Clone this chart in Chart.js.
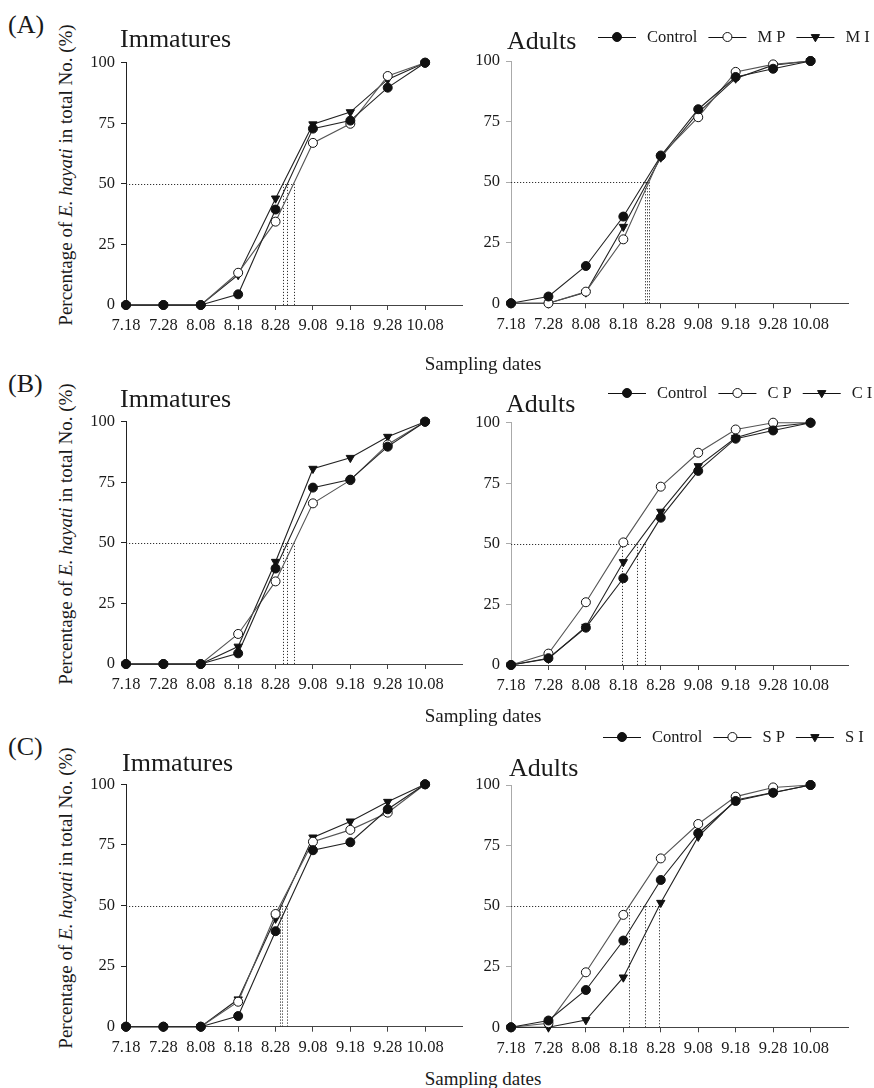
<!DOCTYPE html>
<html><head><meta charset="utf-8">
<script src="https://cdn.jsdelivr.net/npm/chart.js@4.4.1/dist/chart.umd.min.js"></script>
<style>
html,body{margin:0;padding:0;background:#fff;}
#fig{position:relative;width:874px;height:1088px;overflow:hidden;background:#fff;font-family:'Liberation Serif','Times New Roman',serif;color:#1a1a1a;}
#fig canvas{position:absolute;}
.t{position:absolute;white-space:nowrap;}
</style></head><body><div id="fig"></div>
<script>
// ---------- data ----------
const dates = ['7.18','7.28','8.08','8.18','8.28','9.08','9.18','9.28','10.08'];
const yTicks = [0, 25, 50, 75, 100];

const immControl = [0, 0, 0, 4.4, 39.4, 72.8, 76.1, 89.7, 100];
const adControl  = [0, 2.8, 15.4, 35.8, 60.8, 80.1, 93.4, 96.8, 100];

const immMP = [0, 0, 0, 13.3, 34.4, 66.9, 74.8, 94.5, 100];
const immMI = [0, 0, 0, 12.4, 44.0, 74.6, 79.6, 93.1, 100];
const adMP  = [0, 0, 4.8, 26.4, 61.0, 76.8, 95.5, 98.6, 100];
const adMI  = [0, 0, 4.5, 31.6, 60.2, 78.7, 92.8, 98.3, 100];

const immCP = [0, 0, 0, 12.4, 34.1, 66.3, 75.9, 90.6, 100];
const immCI = [0, 0, 0, 7.2, 42.2, 80.6, 85.1, 93.8, 100];
const adCP  = [0, 4.7, 25.9, 50.6, 73.6, 87.6, 97.2, 100, 100];
const adCI  = [0, 2.6, 15.8, 42.5, 63.3, 82.1, 93.8, 98.3, 100];

const immSP = [0, 0, 0, 10.3, 46.5, 76.3, 81.2, 88.3, 100];
const immSI = [0, 0, 0, 11.3, 44.6, 78.1, 84.7, 92.8, 100];
const adSP  = [0, 1.7, 22.7, 46.4, 69.7, 83.9, 95.2, 99.0, 100];
const adSI  = [0, 0, 3.0, 20.6, 51.4, 78.7, 93.8, 96.9, 100];

const labelsA = ['Control', 'M P', 'M I'];
const labelsB = ['Control', 'C P', 'C I'];
const labelsC = ['Control', 'S P', 'S I'];

// ---------- styles ----------
const FONT = "'Liberation Serif','Times New Roman',serif";
const seriesStyle = [
  {pointStyle:'circle', pointRadius:4.5, pointRotation:0, pointBackgroundColor:'#111', pointBorderColor:'#111', borderColor:'#222'},
  {pointStyle:'circle', pointRadius:4.5, pointRotation:0, pointBackgroundColor:'#fff', pointBorderColor:'#111', borderColor:'#555'},
  {pointStyle:'triangle', pointRadius:4.8, pointRotation:180, pointBackgroundColor:'#111', pointBorderColor:'#111', borderColor:'#222'}
];

const fig = document.getElementById('fig');

const refLines = {
  id:'refLines',
  beforeDatasetsDraw(chart){
    const xs = chart.scales.x, ys = chart.scales.y, ctx = chart.ctx;
    const y50 = ys.getPixelForValue(50), y0 = ys.getPixelForValue(0);
    const cross = [];
    chart.data.datasets.forEach(ds => {
      const d = ds.data;
      for (let i = 0; i < d.length - 1; i++) {
        if (d[i] < 50 && d[i+1] >= 50) { cross.push(xs.getPixelForValue(i + (50 - d[i]) / (d[i+1] - d[i]))); break; }
      }
    });
    if (!cross.length) return;
    ctx.save();
    ctx.strokeStyle = '#333'; ctx.lineWidth = 1; ctx.setLineDash([1.2, 1.8]);
    ctx.beginPath();
    ctx.moveTo(xs.left, Math.round(y50) + 0.5); ctx.lineTo(Math.max(...cross), Math.round(y50) + 0.5);
    cross.forEach(x => { ctx.moveTo(Math.round(x) + 0.5, y50); ctx.lineTo(Math.round(x) + 0.5, y0); });
    ctx.stroke();
    ctx.restore();
  }
};

const legendPlugin = {
  id:'lg',
  afterDraw(chart, args, opts){
    if (!opts || !opts.show) return;
    const ctx = chart.ctx;
    let x = opts.x, y = opts.y;
    ctx.save();
    ctx.font = '16.5px ' + FONT;
    ctx.textBaseline = 'middle';
    chart.data.datasets.forEach((ds, i) => {
      const st = seriesStyle[i];
      ctx.strokeStyle = '#111'; ctx.lineWidth = 1;
      ctx.beginPath(); ctx.moveTo(x, y + 0.5); ctx.lineTo(x + 38, y + 0.5); ctx.stroke();
      ctx.fillStyle = st.pointBackgroundColor; ctx.strokeStyle = st.pointBorderColor;
      Chart.helpers.drawPoint(ctx, {pointStyle: st.pointStyle, radius: st.pointRadius, rotation: st.pointRotation, borderWidth: 1}, x + 19, y);
      ctx.fillStyle = '#1a1a1a';
      ctx.fillText(ds.label, x + 49, y + 1);
      x += 49 + ctx.measureText(ds.label).width + 11;
    });
    ctx.restore();
  }
};

function panel(p){
  const cv = document.createElement('canvas');
  const W = p.cr - p.cl, H = p.cb - p.ct;
  cv.width = W; cv.height = H;
  cv.style.left = p.cl + 'px'; cv.style.top = p.ct + 'px';
  cv.style.width = W + 'px'; cv.style.height = H + 'px';
  fig.appendChild(cv);
  const datasets = p.series.map((d, i) => Object.assign({
    label: p.labels[i], data: d, borderWidth: 1.1, pointBorderWidth: 1, fill: false, tension: 0, clip: false
  }, seriesStyle[i]));
  new Chart(cv, {
    type: 'line',
    data: { labels: dates.concat(['']), datasets: datasets },
    options: {
      responsive: false, animation: false, devicePixelRatio: 1,
      layout: { padding: { top: p.t - p.ct, right: p.cr - p.r, left: 0, bottom: 0 } },
      plugins: {
        legend: { display: false }, tooltip: { enabled: false },
        lg: p.legend ? { show: true, x: p.legend[0] - p.cl, y: p.legend[1] - p.ct } : { show: false }
      },
      scales: {
        x: {
          type: 'category', offset: false,
          grid: { drawOnChartArea: false, tickLength: 5, lineWidth: 1,
                  color: c => (c.index >= dates.length || c.index === 0) ? 'rgba(0,0,0,0)' : '#444' },
          border: { color: '#444', width: 1 },
          ticks: { autoSkip: false, maxRotation: 0, minRotation: 0, padding: 6, color: '#1a1a1a',
                   font: { family: FONT, size: 16.5 } },
          afterFit: s => { s.height = p.cb - p.b; }
        },
        y: {
          min: 0, max: 100,
          afterBuildTicks: s => { s.ticks = yTicks.map(v => ({ value: v })); },
          grid: { drawOnChartArea: false, tickLength: 5, lineWidth: 1, color: c => c.index === 0 ? 'rgba(0,0,0,0)' : p.yColor },
          border: { color: p.yColor, width: 1 },
          ticks: { padding: 6, color: '#1a1a1a', font: { family: FONT, size: 16.5 } },
          afterFit: s => { s.width = p.l - p.cl; }
        }
      }
    },
    plugins: [refLines, legendPlugin]
  });
}

// ---------- panels ----------
const IMM = { l: 126, r: 462.5, cl: 80, cr: 470, yColor: '#222' };
const AD  = { l: 511, r: 848, cl: 466, cr: 874, yColor: '#aaa' };

panel(Object.assign({}, IMM, { t: 62.7, b: 305, ct: 42, cb: 345, series: [immControl, immMP, immMI], labels: labelsA }));
panel(Object.assign({}, AD,  { t: 61, b: 303.3, ct: 18, cb: 345, series: [adControl, adMP, adMI], labels: labelsA, legend: [598, 37] }));
panel(Object.assign({}, IMM, { t: 421.7, b: 664, ct: 400, cb: 704, series: [immControl, immCP, immCI], labels: labelsB }));
panel(Object.assign({}, AD,  { t: 422.7, b: 665, ct: 376, cb: 704, series: [adControl, adCP, adCI], labels: labelsB, legend: [608, 393] }));
panel(Object.assign({}, IMM, { t: 784.3, b: 1026.7, ct: 764, cb: 1066, series: [immControl, immSP, immSI], labels: labelsC }));
panel(Object.assign({}, AD,  { t: 785, b: 1027.3, ct: 720, cb: 1066, series: [adControl, adSP, adSI], labels: labelsC, legend: [603, 737] }));

// ---------- text ----------
function txt(html, x, base, size, align){
  const d = document.createElement('div');
  d.className = 't';
  d.innerHTML = html;
  d.style.fontSize = size + 'px';
  d.style.lineHeight = size + 'px';
  d.style.top = (base - 0.8375 * size) + 'px';
  d.style.left = x + 'px';
  if (align === 'center') d.style.transform = 'translateX(-50%)';
  fig.appendChild(d);
}
function vtxt(html, cx, cy, size){
  const d = document.createElement('div');
  d.className = 't';
  d.innerHTML = html;
  d.style.fontSize = size + 'px';
  d.style.lineHeight = size + 'px';
  d.style.left = cx + 'px'; d.style.top = cy + 'px';
  d.style.transform = 'translate(-50%,-50%) rotate(-90deg)';
  fig.appendChild(d);
}
const yTitle = 'Percentage of <i>E. hayati</i> in total No. (%)';
[['(A)', 34], ['(B)', 393], ['(C)', 756]].forEach(a => txt(a[0], 8, a[1], 26));
txt('Immatures', 120, 48, 26); txt('Adults', 507, 50, 26);
txt('Immatures', 120, 408, 26); txt('Adults', 506, 413, 26);
txt('Immatures', 122, 772, 26); txt('Adults', 509, 777, 26);
vtxt(yTitle, 65, 175, 19); vtxt(yTitle, 65, 534, 19); vtxt(yTitle, 65, 898, 19);
txt('Sampling dates', 483, 370, 19, 'center');
txt('Sampling dates', 483, 722, 19, 'center');
txt('Sampling dates', 483, 1085, 19, 'center');
</script></body></html>
